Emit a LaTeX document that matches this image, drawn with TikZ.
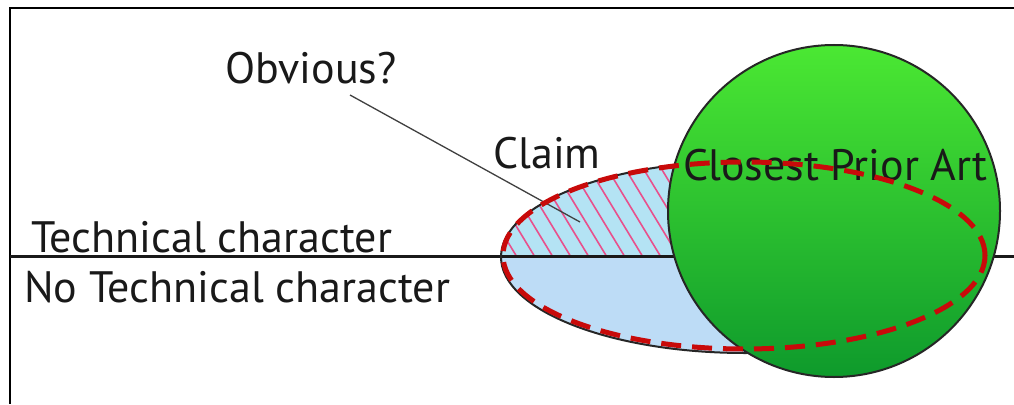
\documentclass[tikz,border=0pt]{standalone}
\usepackage{fontspec}
\setmainfont{PT Sans}
\begin{document}
\begin{tikzpicture}[x=1pt,y=-1pt,
  lbl/.style={inner sep=0pt, anchor=base west, text=black!90, font=\fontsize{44}{48}\selectfont},
  frameline/.style={line width=2.6pt, black},
  hatchline/.style={line width=1.6pt, color=hatchpink},
  claimline/.style={line width=2pt, black!85},
  priorline/.style={line width=5pt, color=priorred, dash pattern=on 20pt off 11pt}]
\definecolor{lowblue}{HTML}{BDDCF6}
\definecolor{upblue}{HTML}{B4E3F4}
\definecolor{hatchpink}{HTML}{E8508C}
\definecolor{greentop}{HTML}{4BE833}
\definecolor{greenbot}{HTML}{0E9A2C}
\definecolor{priorred}{HTML}{C80A0A}
\useasboundingbox (0,0) rectangle (1014,404);
\fill[white] (0,0) rectangle (1014,404);
% frame
\coordinate (fTL) at (10,8);
\coordinate (fTR) at (1014,8);
\coordinate (fBL) at (10,404);
\draw[frameline] (fTR) -- (fTL) -- (fBL);
% claim ellipse fills
\begin{scope}
  \clip (745,257) ellipse [x radius=244pt, y radius=96pt];
  \fill[lowblue] (480,256.5) rectangle (1000,360);
  \fill[upblue] (480,150) rectangle (1000,256.5);
  \clip (480,150) rectangle (840,256.5);
  \foreach \xx in {380,398,...,760} {
    \draw[hatchline] (\xx,150) -- ({\xx+68},262);
  }
\end{scope}
% separator line
\coordinate (hL) at (10,256.5);
\coordinate (hR) at (1014,256.5);
\draw[line width=2.4pt, black!90] (hL) -- (hR);
% claim outline
\draw[claimline] (745,257) ellipse [x radius=244pt, y radius=96pt];
% leader
\node[lbl] (obv) at (225,83) {Obvious?};
\coordinate (obvS) at (350,95);
\coordinate (obvT) at (580,222);
\draw[line width=1.3pt, black!75] (obvS) -- (obvT);
% closest prior art circle
\shade[top color=greentop, bottom color=greenbot] (834,211) circle [radius=166pt];
\draw[line width=2pt, black!85] (834,211) circle [radius=166pt];
% labels
\node[lbl] (claim) at (493,168) {Claim};
\node[lbl] (cpa) at (683,180) {Closest Prior Art};
\node[lbl] (tech) at (31,252) {Technical character};
\node[lbl] (notech) at (24,302) {No Technical character};
% prior art dashed ellipse
\draw[priorred, priorline] (744,255.5) ellipse [x radius=241pt, y radius=93.5pt];
\end{tikzpicture}
\end{document}
